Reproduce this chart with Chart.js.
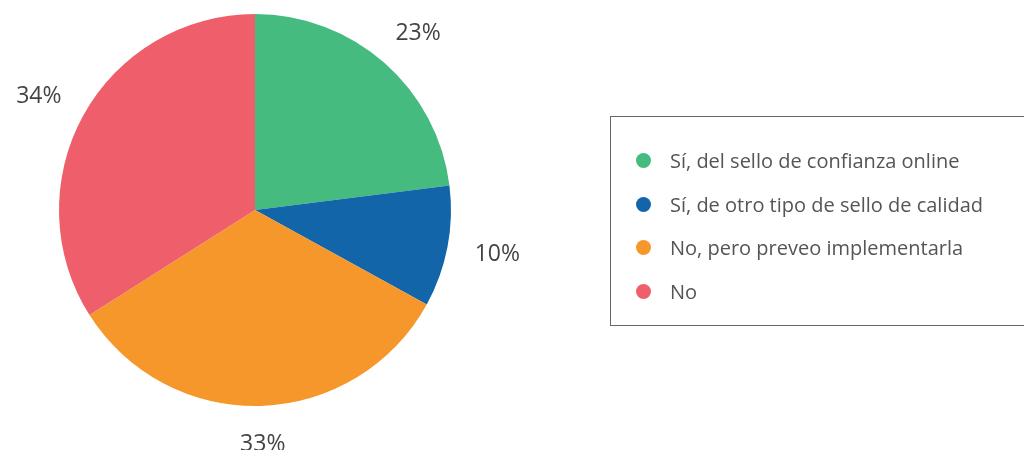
<!DOCTYPE html>
<html>
<head>
<meta charset="utf-8">
<script src="https://cdn.jsdelivr.net/npm/chart.js@4/dist/chart.umd.min.js"></script>
<style>
  body { margin: 0; background: #fff; font-family: 'Open Sans', 'Noto Sans', sans-serif; }
  #wrap { position: relative; width: 1024px; height: 450px; overflow: hidden; }
  #legend { position: absolute; left: 610px; top: 116px; width: 430px; height: 210px; border: 1px solid #666; box-sizing: border-box; padding-top: 22px; }
  .item { height: 43.5px; display: flex; align-items: center; color: #555; font-size: 20px; }
  .dot { width: 15px; height: 15px; border-radius: 50%; margin-left: 25px; margin-right: 19px; }
</style>
</head>
<body>
<div id="wrap">
  <canvas id="chart" width="1024" height="450"></canvas>
  <div id="legend"></div>
</div>
<script>
// datos del gráfico
const labels = ['Sí, del sello de confianza online', 'Sí, de otro tipo de sello de calidad', 'No, pero preveo implementarla', 'No'];
const values = [23, 10, 33, 34];
const sliceColors = ['#46bb80', '#1265a9', '#f6972b', '#ef5e6b'];

// leyenda en HTML
const legendEl = document.getElementById('legend');
labels.forEach((l, i) => {
    const row = document.createElement('div');
    row.className = 'item';
    row.innerHTML = `<span class="dot" style="background:${sliceColors[i]}"></span><span>${l}</span>`;
    legendEl.appendChild(row);
});

// etiquetas de porcentaje fuera del pastel
const pctLabels = {
    id: 'pctLabels',
    afterDraw(chart) {
        const ctx = chart.ctx;
        const meta = chart.getDatasetMeta(0);
        ctx.save();
        ctx.font = '23px "Open Sans", "Noto Sans", sans-serif';
        ctx.fillStyle = '#444';
        ctx.textAlign = 'center';
        ctx.textBaseline = 'middle';
        meta.data.forEach((arc, i) => {
            const txt = values[i] + '%';
            const mid = (arc.startAngle + arc.endAngle) / 2;
            const dx = Math.cos(mid), dy = Math.sin(mid);
            const halfW = ctx.measureText(txt).width / 2, halfH = 11;
            const r = arc.outerRadius + 28;
            const x = arc.x + dx * r + dx * halfW;
            const y = arc.y + dy * r + dy * halfH;
            ctx.fillText(txt, x, y);
        });
        ctx.restore();
    }
};

new Chart(document.getElementById('chart'), {
    type: 'pie',
    data: {
        labels: labels,
        datasets: [{ data: values, backgroundColor: sliceColors, borderWidth: 0 }]
    },
    options: {
        responsive: false,
        animation: false,
        layout: { padding: { left: 59, right: 573, top: 14, bottom: 44 } },
        plugins: { legend: { display: false }, tooltip: { enabled: false } }
    },
    plugins: [pctLabels]
});
</script>
</body>
</html>
